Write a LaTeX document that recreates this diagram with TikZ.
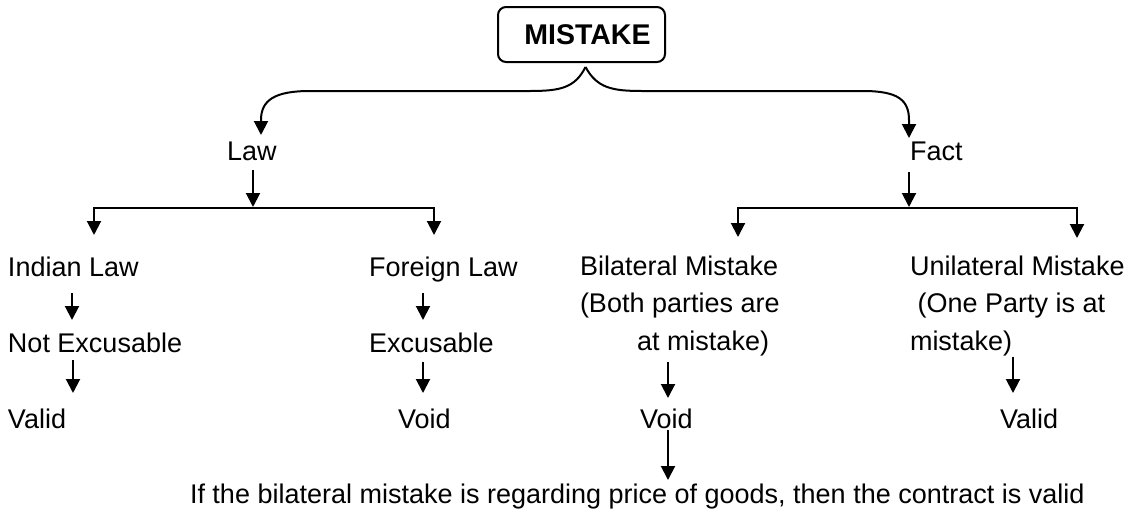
\documentclass[tikz,border=0pt]{standalone}
\usepackage{fontspec}
\setmainfont{Liberation Sans}
\usetikzlibrary{arrows.meta,calc}
\newcommand\diagfont{\fontsize{27}{37.5}\selectfont}
\begin{document}
\begin{tikzpicture}[x=1pt,y=-1pt,
  txt/.style={anchor=base west, inner sep=0pt, outer sep=0pt, text height=20pt, text depth=6pt, font=\diagfont},
  multi/.style={anchor=north west, inner sep=0pt, outer sep=0pt, align=left, font=\diagfont},
  wire/.style={line width=2pt},
  arr/.style={wire, -{Triangle[width=14pt,length=14pt]}}]
\fill[white] (0,0) rectangle (1133,512);
\useasboundingbox (0,0) rectangle (1133,512);

% root box
\node[draw, line width=2pt, rounded corners=8pt, minimum width=167pt, minimum height=55pt,
      inner sep=0pt, outer sep=0pt, font=\fontsize{28.5}{34}\selectfont\bfseries]
  (mistake) at (581.5,34.5) {\hspace*{12pt}MISTAKE};

% first level
\node[txt] (law)  at (227,160) {Law};
\node[txt] (fact) at (910,160) {Fact};

% law branch
\node[txt] (indian)  at (8,276)   {Indian Law};
\node[txt] (notexc)  at (8,352)   {Not Excusable};
\node[txt] (valid1)  at (8,428)   {Valid};
\node[txt] (foreign) at (369,276) {Foreign Law};
\node[txt] (exc)     at (369,352) {Excusable};
\node[txt] (void1)   at (398,428) {Void};

% fact branch
\node[multi] (bilat) at (580,255)
  {\rule{0pt}{20pt}Bilateral Mistake\\(Both parties are\\\hspace*{57pt}at mistake)};
\node[txt] (void2) at (640,428) {Void};
\node[txt] (note)  at (190,503)
  {If the bilateral mistake is regarding price of goods, then the contract is valid};
\node[multi] (unilat) at (910,255)
  {\rule{0pt}{20pt}Unilateral Mistake\\\hspace*{0.278em}(One Party is at\\mistake)};
\node[txt] (valid2) at (1000,428) {Valid};

% brace under the root box
\draw[arr] ([xshift=4pt,yshift=-5pt]mistake.south)
  .. controls (575,88) and (560,91) .. (530,91) -- (310,91)
  .. controls (275,91) and (261,100) .. (261,120)
  -- ([xshift=34pt,yshift=5pt]law.north west);
\draw[arr] ([xshift=4pt,yshift=-5pt]mistake.south)
  .. controls (597,88) and (612,91) .. (642,91) -- (863,91)
  .. controls (898,91) and (909,100) .. (909,120)
  -- ([xshift=-1pt,yshift=2pt]fact.north west);

% junction points on the split bars
\coordinate (lj) at (253,208);
\coordinate (fj) at (909,208);

\draw[arr, shorten >=1pt] ([xshift=26pt,yshift=-4pt]law.south west) -- (lj);
\draw[arr] (lj) -| ([xshift=86pt,yshift=21pt]indian.north west);
\draw[arr] (lj) -| ([xshift=65pt,yshift=21pt]foreign.north west);

\draw[arr, shorten >=1pt] ([xshift=-1pt,yshift=-6pt]fact.south west) -- (fj);
\draw[arr] (fj) -| ([xshift=158pt,yshift=18pt]bilat.north west);
\draw[arr] (fj) -| ([xshift=167pt,yshift=17pt]unilat.north west);

% chains below each heading
\draw[arr] ([xshift=64pt,yshift=-11pt]indian.south west) -- ([xshift=64pt,yshift=12pt]notexc.north west);
\draw[arr] ([xshift=65pt,yshift=-2pt]notexc.south west) -- ([xshift=65pt,yshift=15pt]valid1.north west);
\draw[arr] ([xshift=54pt,yshift=-11pt]foreign.south west) -- ([xshift=54pt,yshift=12pt]exc.north west);
\draw[arr] ([xshift=54pt,yshift=-4pt]exc.south west) -- ([xshift=25pt,yshift=15pt]void1.north west);
\draw[arr] ([xshift=88pt,yshift=-6pt]bilat.south west) -- ([xshift=28pt,yshift=10pt]void2.north west);
\draw[arr] ([xshift=28pt,yshift=4pt]void2.south west) -- ([xshift=478pt,yshift=3pt]note.north west);
\draw[arr] ([xshift=103pt,yshift=-1pt]unilat.south west) -- ([xshift=13pt,yshift=15pt]valid2.north west);
\end{tikzpicture}
\end{document}
